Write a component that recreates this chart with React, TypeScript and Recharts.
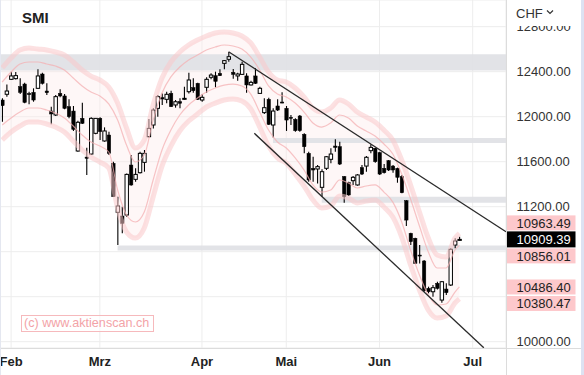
import React from 'react';
import {
  ComposedChart,
  Bar,
  Line,
  Area,
  XAxis,
  YAxis,
  CartesianGrid,
  ReferenceArea,
  ReferenceLine,
} from 'recharts';

// daily candles, end of January to end of June (SIX trading days)
const opens = [
  12148, 12199, 12332, 12338, 12267, 12290, 12205, 12216, 12252, 12379, 12228, 12050, 12015, 12207, 12184, 12089,
  12050, 11695, 11985, 11641, 11668, 11852, 11985, 11784, 11837, 11585, 11150, 11117, 11126, 11570, 11443, 11502,
  11594, 11822, 11926, 12074, 12169, 12154, 12207, 12104, 12133, 12155, 12222, 12258, 12296, 12148, 12261, 12350,
  12364, 12385, 12474, 12510, 12394, 12362, 12376, 12362, 12282, 12362, 12207, 12036, 12154, 11926, 12095, 12130,
  12074, 11994, 11976, 12006, 11843, 11674, 11541, 11535, 11372, 11541, 11621, 11739, 11733, 11467, 11413, 11431,
  11393, 11547, 11561, 11698, 11719, 11680, 11541, 11609, 11561, 11541, 11467, 11253, 10963, 10919, 10770, 10717,
  10474, 10444, 10519, 10370, 10468, 10504, 10859, 10905,
];
const highs = [
  12163, 12287, 12400, 12396, 12341, 12302, 12222, 12252, 12421, 12391, 12296, 12089, 12193, 12243, 12202, 12154,
  12095, 11964, 12124, 11724, 11994, 11988, 11994, 11905, 11867, 11600, 11289, 11200, 11496, 11659, 11541, 11689,
  11704, 11979, 12074, 12193, 12207, 12222, 12231, 12148, 12163, 12267, 12391, 12341, 12302, 12199, 12350, 12385,
  12400, 12421, 12504, 12575, 12424, 12391, 12489, 12385, 12320, 12430, 12267, 12163, 12169, 12074, 12154, 12216,
  12095, 12015, 11985, 12015, 11852, 11689, 11644, 11570, 11532, 11650, 11719, 11799, 11778, 11473, 11422, 11473,
  11490, 11570, 11650, 11754, 11724, 11689, 11579, 11615, 11570, 11547, 11482, 11259, 10969, 10924, 10859, 10726,
  10489, 10504, 10533, 10539, 10519, 10830, 10919, 10933,
];
const lows = [
  11956, 12178, 12326, 12330, 12202, 12119, 12110, 12133, 12248, 12287, 12193, 11932, 12006, 12172, 12065, 11985,
  11873, 11689, 11935, 11482, 11659, 11843, 11793, 11778, 11659, 11285, 10860, 10963, 11111, 11387, 11422, 11496,
  11511, 11818, 11896, 12000, 12104, 12119, 12086, 12080, 12074, 12150, 12207, 12213, 12148, 12133, 12213, 12332,
  12261, 12362, 12421, 12489, 12338, 12320, 12370, 12213, 12276, 12290, 12203, 12024, 11926, 11816, 12050, 12119,
  11873, 11926, 11867, 11867, 11674, 11422, 11422, 11407, 11289, 11526, 11585, 11689, 11570, 11236, 11295, 11393,
  11387, 11482, 11511, 11674, 11591, 11482, 11496, 11517, 11502, 11413, 11319, 11028, 10859, 10690, 10696, 10444,
  10430, 10400, 10465, 10347, 10415, 10495, 10830, 10898,
];
const closes = [
  12098, 12228, 12362, 12365, 12216, 12127, 12198, 12148, 12362, 12296, 12213, 12024, 12178, 12184, 12074, 12000,
  11887, 11950, 11941, 11630, 11985, 11985, 11867, 11873, 11674, 11289, 11206, 11052, 11487, 11393, 11487, 11674,
  11674, 11896, 12059, 12178, 12157, 12199, 12089, 12133, 12119, 12163, 12326, 12231, 12154, 12172, 12332, 12370,
  12314, 12364, 12498, 12533, 12376, 12379, 12465, 12282, 12305, 12296, 12252, 12080, 11932, 12050, 12059, 12124,
  11970, 11985, 11876, 11876, 11733, 11437, 11526, 11556, 11511, 11644, 11668, 11727, 11579, 11289, 11304, 11461,
  11482, 11490, 11639, 11727, 11600, 11490, 11502, 11526, 11526, 11461, 11324, 11081, 10889, 10696, 10764, 10453,
  10444, 10480, 10474, 10533, 10436, 10821, 10895, 10909.39,
];

const slotCount = 114;
const monthTicks = [2, 22, 45, 64, 85, 106];
const monthLabels = ['Feb', 'Mrz', 'Apr', 'Mai', 'Jun', 'Jul'];
const yTicks = [10000, 10400, 10800, 11200, 11600, 12000, 12400, 12800];

// envelope lines, read at every second day
const bandIdx = [
  0, 2, 4, 6, 8, 10, 12, 14, 16, 18, 20, 22, 24, 26, 28, 30, 32, 34, 36, 38, 40, 42, 44, 46, 48, 50, 52, 54, 56, 58,
  60, 62, 64, 66, 68, 70, 72, 74, 76, 78, 80, 82, 84, 86, 88, 90, 92, 94, 96, 98, 100, 102, 103,
];
const upperOuter = [
  12433, 12521, 12593, 12610, 12601, 12593, 12575, 12548, 12486, 12415, 12361, 12326, 12264, 12121, 11899, 11721,
  11793, 12104, 12344, 12486, 12575, 12637, 12681, 12717, 12744, 12753, 12744, 12717, 12655, 12530, 12397, 12326,
  12308, 12255, 12175, 12077, 12041, 12077, 12148, 12113, 12041, 11997, 11953, 11881, 11793, 11615, 11393, 11153,
  10921, 10770, 10752, 10921, 10963.49,
];
const upperInner = [
  12308, 12397, 12468, 12486, 12486, 12468, 12450, 12415, 12344, 12273, 12219, 12184, 12113, 11970, 11748, 11597,
  11659, 11970, 12210, 12353, 12441, 12504, 12548, 12593, 12619, 12637, 12628, 12601, 12530, 12415, 12273, 12201,
  12175, 12121, 12041, 11944, 11908, 11944, 12015, 11988, 11917, 11873, 11828, 11757, 11668, 11490, 11268, 11028,
  10797, 10655, 10655, 10815, 10856.01,
];
const lowerInner = [
  11926, 11988, 12041, 12077, 12077, 12059, 12033, 11988, 11917, 11837, 11775, 11739, 11686, 11348, 11126, 11064,
  11153, 11437, 11704, 11881, 12015, 12104, 12166, 12219, 12255, 12281, 12290, 12273, 12201, 12041, 11881, 11775,
  11721, 11633, 11526, 11393, 11330, 11348, 11437, 11410, 11366, 11384, 11393, 11330, 11241, 11064, 10815, 10593,
  10415, 10326, 10335, 10441, 10486.4,
];
const lowerOuter = [
  11793, 11864, 11917, 11953, 11953, 11935, 11908, 11864, 11784, 11704, 11641, 11597, 11544, 11188, 10975, 10921,
  11010, 11286, 11561, 11739, 11873, 11961, 12024, 12086, 12121, 12148, 12157, 12139, 12068, 11908, 11739, 11633,
  11588, 11490, 11384, 11259, 11188, 11206, 11295, 11277, 11233, 11250, 11259, 11197, 11108, 10930, 10681, 10459,
  10281, 10210, 10228, 10344, 10380.47,
];

// support / resistance zones: start day, bottom, top
const zoneStart = [-0.5, 61, 72, 26];
const zoneLow = [12410, 11765, 11236, 10810];
const zoneHigh = [12555, 11810, 11289, 10855];

// trend channel (day index, price)
const upperTrend = [
  { k: 51, v: 12577 },
  { k: 113.5, v: 10977 },
];
const lowerTrend = [
  { k: 56.8, v: 11852 },
  { k: 108.5, v: 9946 },
];

const Y_MIN = 9944;
const Y_MAX = 13037;
const PLOT_H = 348;
const FONT = '"Liberation Sans", Arial, sans-serif';

const data = Array.from({ length: slotCount }, (_, k) => {
  const row: any = { k };
  if (k < opens.length) {
    row.o = opens[k];
    row.h = highs[k];
    row.l = lows[k];
    row.c = closes[k];
    row.range = [lows[k], highs[k]];
  }
  const b = bandIdx.indexOf(k);
  if (b >= 0) {
    row.uo = upperOuter[b];
    row.ui = upperInner[b];
    row.li = lowerInner[b];
    row.lo = lowerOuter[b];
    row.env = [lowerOuter[b], upperOuter[b]];
  }
  return row;
});

const last = bandIdx.length - 1;
const tags = [
  { v: upperOuter[last], bg: '#fdc8cb', fg: '#222', main: false },
  { v: closes[closes.length - 1], bg: '#000', fg: '#fff', main: true },
  { v: upperInner[last], bg: '#fdc8cb', fg: '#222', main: false },
  { v: lowerInner[last], bg: '#fdc8cb', fg: '#222', main: false },
  { v: lowerOuter[last], bg: '#fdc8cb', fg: '#222', main: false },
];

const toPx = (v: number) => (PLOT_H * (Y_MAX - v)) / (Y_MAX - Y_MIN);

// push tags apart so they do not overlap, the last price stays put
function layoutTags() {
  const TAG_H = 15;
  const GAP = 1.5;
  const raw = tags.map((t) => toPx(t.v));
  const pos = raw.slice();
  const order = tags.map((_, i) => i).sort((a, b) => raw[a] - raw[b]);
  const m = order.indexOf(tags.findIndex((t) => t.main));
  for (let j = m - 1; j >= 0; j--) {
    const lim = pos[order[j + 1]] - TAG_H - GAP;
    if (pos[order[j]] > lim) pos[order[j]] = lim;
  }
  for (let j = m + 1; j < order.length; j++) {
    const lim = pos[order[j - 1]] + TAG_H + GAP;
    if (pos[order[j]] < lim) pos[order[j]] = lim;
  }
  return pos;
}
const tagPos = layoutTags();
const tagShift = tagPos.map((p, i) => p - toPx(tags[i].v));

// axis labels that sit under a price tag are covered in the original
function PriceTick(props: any) {
  const { x, y, payload } = props;
  if (tagPos.some((p) => Math.abs(p - y) < 12)) return null;
  return (
    <text x={x} y={y} dy="0.36em" fill="#333" fontSize={13} fontFamily={FONT} textAnchor="start">
      {Number(payload.value).toFixed(2)}
    </text>
  );
}

function Candle(props: any) {
  const { x, y, width, height, payload } = props;
  if (!payload || payload.o == null) return null;
  const { o, h, l, c } = payload;
  const top = Math.min(y, y + height);
  const bot = Math.max(y, y + height);
  const span = h - l || 1;
  const py = (v: number) => top + ((h - v) / span) * (bot - top);
  const cx = x + width / 2;
  const up = c >= o;
  const bt = py(Math.max(o, c));
  const bb = py(Math.min(o, c));
  const bw = 3.4;
  return (
    <g>
      <line x1={cx} x2={cx} y1={top} y2={bot} stroke="#000" strokeWidth={1.1} />
      <rect
        x={cx - bw / 2}
        y={bt}
        width={bw}
        height={Math.max(bb - bt, 1)}
        fill={up ? '#fff' : '#000'}
        stroke="#000"
        strokeWidth={up ? 1 : 0.5}
      />
    </g>
  );
}

function PriceTag(props: any) {
  const { viewBox, shift, value, bg, fg, main } = props;
  if (!viewBox) return null;
  const x0 = viewBox.x + viewBox.width + 0.5;
  const cy = viewBox.y + shift;
  const hh = main ? 16 : 15;
  return (
    <g>
      <rect x={x0} y={cy - hh / 2} width={69} height={hh} fill={bg} />
      <text x={x0 + 10} y={cy} dy="0.36em" fill={fg} fontSize={13} fontFamily={FONT}>
        {value.toFixed(2)}
      </text>
    </g>
  );
}

export default function App() {
  return (
    <div
      style={{
        position: 'absolute',
        left: 0,
        top: 0,
        width: 584,
        height: 375,
        background: '#fff',
        overflow: 'hidden',
        fontFamily: FONT,
      }}
    >
      <ComposedChart
        width={584}
        height={375}
        data={data}
        margin={{ top: 0, right: 0, bottom: 0, left: 0 }}
        barCategoryGap="10%"
      >
        <CartesianGrid stroke="#ededed" />
        <XAxis
          dataKey="k"
          type="category"
          ticks={monthTicks}
          interval={0}
          height={27}
          tickLine={false}
          axisLine={false}
          tickSize={0}
          tickMargin={9}
          tickFormatter={(v) => monthLabels[monthTicks.indexOf(v)] ?? ''}
          tick={{ fill: '#222', fontSize: 13, fontWeight: 700, fontFamily: FONT }}
        />
        <XAxis xAxisId="n" type="number" dataKey="k" domain={[-0.5, slotCount - 0.5]} hide allowDataOverflow />
        <YAxis
          orientation="right"
          domain={[Y_MIN, Y_MAX]}
          ticks={yTicks}
          interval={0}
          allowDataOverflow
          width={78}
          tickLine={false}
          axisLine={false}
          tickSize={0}
          tickMargin={10.5}
          tick={<PriceTick />}
        />
        <Area
          dataKey={(d: any) => d.env}
          stroke="none"
          fill="#fdeaea"
          fillOpacity={0.4}
          type="monotone"
          connectNulls
          isAnimationActive={false}
        />
        {['uo', 'lo'].map((key) => (
          <Line
            key={key}
            dataKey={key}
            stroke="#f9c9cb"
            strokeOpacity={0.55}
            strokeWidth={5}
            dot={false}
            type="monotone"
            connectNulls
            isAnimationActive={false}
          />
        ))}
        {['ui', 'li'].map((key) => (
          <Line
            key={key}
            dataKey={key}
            stroke="#f4b0b3"
            strokeOpacity={0.75}
            strokeWidth={1.2}
            dot={false}
            type="monotone"
            connectNulls
            isAnimationActive={false}
          />
        ))}
        {zoneStart.map((s, i) => (
          <ReferenceArea
            key={i}
            xAxisId="n"
            x1={s}
            x2={slotCount - 0.5}
            y1={zoneLow[i]}
            y2={zoneHigh[i]}
            fill="#dfe0e4"
            fillOpacity={0.9}
            stroke="none"
          />
        ))}
        <Bar dataKey={(d: any) => d.range} shape={<Candle />} isAnimationActive={false} />
        <ReferenceLine
          xAxisId="n"
          segment={[
            { x: upperTrend[0].k, y: upperTrend[0].v },
            { x: upperTrend[1].k, y: upperTrend[1].v },
          ]}
          stroke="#2a2a2a"
          strokeWidth={1.3}
          ifOverflow="visible"
        />
        <ReferenceLine
          xAxisId="n"
          segment={[
            { x: lowerTrend[0].k, y: lowerTrend[0].v },
            { x: lowerTrend[1].k, y: lowerTrend[1].v },
          ]}
          stroke="#2a2a2a"
          strokeWidth={1.3}
          ifOverflow="visible"
        />
        {tags.map((t, i) => (
          <ReferenceLine
            key={'tag' + i}
            xAxisId="n"
            y={t.v}
            stroke="none"
            ifOverflow="visible"
            label={<PriceTag shift={tagShift[i]} value={t.v} bg={t.bg} fg={t.fg} main={t.main} />}
          />
        ))}
      </ComposedChart>

      {/* frame lines */}
      <div style={{ position: 'absolute', left: 506, top: 0, width: 1, height: 375, background: '#dcdcdc' }} />
      <div style={{ position: 'absolute', left: 0, top: 348, width: 584, height: 1, background: '#dcdcdc' }} />
      <div style={{ position: 'absolute', left: 0, top: 0, width: 1, height: 375, background: '#e4e7f0' }} />
      <div style={{ position: 'absolute', left: 581, top: 0, width: 3, height: 375, background: '#dde2f2' }} />

      <div
        style={{
          position: 'absolute',
          left: 507,
          top: 0,
          width: 74,
          height: 26,
          background: '#fff',
          fontSize: 13,
          color: '#333',
          display: 'flex',
          alignItems: 'center',
          paddingLeft: 9,
          boxSizing: 'border-box',
        }}
      >
        CHF
        <svg width="8" height="6" style={{ marginLeft: 3, marginTop: -2 }}>
          <path d="M1 1.5 L4 4.5 L7 1.5" stroke="#333" strokeWidth="1.2" fill="none" />
        </svg>
      </div>

      <div style={{ position: 'absolute', left: 22, top: 9, fontSize: 15, fontWeight: 700, color: '#222' }}>SMI</div>

      <div
        style={{
          position: 'absolute',
          left: 21,
          top: 315,
          width: 133,
          height: 17,
          border: '1px solid #f6b9bc',
          boxSizing: 'border-box',
          color: '#f3a3a7',
          fontSize: 12.6,
          lineHeight: '15px',
          paddingLeft: 2,
          background: 'rgba(255,255,255,0.6)',
          whiteSpace: 'nowrap',
        }}
      >
        (c) www.aktienscan.ch
      </div>
    </div>
  );
}
